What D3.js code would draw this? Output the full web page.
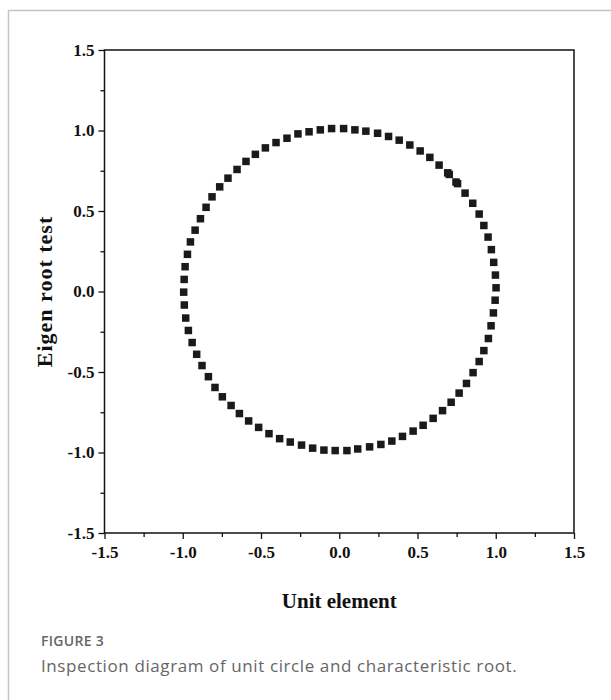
<!DOCTYPE html>
<html>
<head>
<meta charset="utf-8">
<script src="https://cdn.jsdelivr.net/npm/d3@7"></script>
<style>
  body { margin: 0; background: #fff; }
  .tick text { font-family: 'Liberation Serif', serif; font-weight: bold; font-size: 17px; fill: #111; }
  .axis-title { font-family: 'Liberation Serif', serif; font-weight: bold; font-size: 21px; fill: #111; }
</style>
</head>
<body>
<script>
const rootX = [
  0.028, -0.049, -0.121, -0.193, -0.264, -0.334, -0.404, -0.472, -0.536, -0.596,
  -0.653, -0.711, -0.764, -0.813, -0.851, -0.887, -0.921, -0.951, -0.970, -0.985,
  -0.991, -0.994, -0.990, -0.981, -0.964, -0.940, -0.911, -0.877, -0.836, -0.794,
  -0.747, -0.691, -0.638, -0.579, -0.515, -0.449, -0.381, -0.313, -0.241, -0.170,
  -0.098, -0.026, 0.049, 0.118, 0.194, 0.266, 0.336, 0.404, 0.472, 0.536,
  0.600, 0.660, 0.715, 0.766, 0.813, 0.855, 0.894, 0.924, 0.953, 0.970,
  0.985, 0.996, 1.002, 0.998, 0.987, 0.972, 0.951, 0.924, 0.894, 0.853,
  0.804, 0.756, 0.746, 0.703, 0.693, 0.638, 0.579, 0.517, 0.451, 0.383,
  0.315, 0.245, 0.170, 0.100
]
const rootY = [
  1.012, 1.012, 1.004, 0.992, 0.979, 0.952, 0.925, 0.892, 0.852, 0.808,
  0.758, 0.704, 0.650, 0.588, 0.523, 0.452, 0.381, 0.308, 0.231, 0.154,
  0.075, -0.004, -0.084, -0.165, -0.242, -0.317, -0.390, -0.460, -0.529, -0.596,
  -0.654, -0.708, -0.758, -0.804, -0.844, -0.883, -0.914, -0.935, -0.954, -0.973,
  -0.985, -0.988, -0.988, -0.978, -0.965, -0.950, -0.929, -0.900, -0.867, -0.831,
  -0.788, -0.740, -0.688, -0.631, -0.571, -0.504, -0.435, -0.367, -0.292, -0.213,
  -0.133, -0.054, 0.023, 0.102, 0.181, 0.260, 0.338, 0.410, 0.481, 0.548,
  0.611, 0.670, 0.680, 0.727, 0.737, 0.785, 0.833, 0.873, 0.910, 0.940,
  0.963, 0.983, 0.996, 1.004
]
const roots = rootX.map((x, i) => ({ x, y: rootY[i] }))

const majorTicks = [-1.5, -1.0, -0.5, 0.0, 0.5, 1.0, 1.5]
const minorTicks = [-1.25, -0.75, -0.25, 0.25, 0.75, 1.25]

const W = 611, H = 700
const margin = { top: 50, right: 37, bottom: 167, left: 104.5 }
const width = W - margin.left - margin.right
const height = H - margin.top - margin.bottom

const root = d3.select('body').append('svg')
  .attr('width', W)
  .attr('height', H)

// outer frame (only top and left visible in the crop)
root.append('path')
  .attr('d', `M8.5,${H} L8.5,10.5 L${W},10.5`)
  .attr('fill', 'none')
  .attr('stroke', '#c4c4c4')
  .attr('stroke-width', 1.5)

const svg = root.append('g')
  .attr('transform', `translate(${margin.left}, ${margin.top})`)

const xScale = d3.scaleLinear().domain([-1.5, 1.5]).range([0, width])
const yScale = d3.scaleLinear().domain([-1.5, 1.5]).range([height, 0])

// minor ticks
svg.append('g')
  .attr('transform', `translate(0, ${height})`)
  .call(d3.axisBottom(xScale).tickValues(minorTicks).tickSize(4).tickFormat(''))
  .call(g => g.select('.domain').remove())
svg.append('g')
  .call(d3.axisLeft(yScale).tickValues(minorTicks).tickSize(4).tickFormat(''))
  .call(g => g.select('.domain').remove())

const xAxis = svg.append('g')
  .attr('class', 'x axis')
  .attr('transform', `translate(0, ${height})`)
  .call(d3.axisBottom(xScale).tickValues(majorTicks).tickSize(6).tickPadding(7).tickFormat(d3.format('.1f')))
xAxis.select('.domain').remove()

const yAxis = svg.append('g')
  .attr('class', 'y axis')
  .call(d3.axisLeft(yScale).tickValues(majorTicks).tickSize(6).tickPadding(4).tickFormat(d3.format('.1f')))
yAxis.select('.domain').remove()

svg.selectAll('.tick line').attr('stroke', '#111').attr('stroke-width', 1.3)
svg.selectAll('.tick text').text(function () { return this.textContent.replace('−', '-') })

// frame of the plot
svg.append('rect')
  .attr('width', width)
  .attr('height', height)
  .attr('fill', 'none')
  .attr('stroke', '#111')
  .attr('stroke-width', 1.5)

const size = 7.5
svg.selectAll('.pt').data(roots).enter().append('rect')
  .attr('class', 'pt')
  .attr('x', d => xScale(d.x) - size / 2)
  .attr('y', d => yScale(d.y) - size / 2)
  .attr('width', size)
  .attr('height', size)
  .attr('fill', '#1a1a1a')

svg.append('text')
  .attr('class', 'axis-title')
  .attr('x', width / 2)
  .attr('y', height + 75)
  .attr('text-anchor', 'middle')
  .text('Unit element')

svg.append('text')
  .attr('class', 'axis-title')
  .attr('transform', `translate(-53, ${height / 2}) rotate(-90)`)
  .attr('text-anchor', 'middle')
  .style('font-size', '22px')
  .style('letter-spacing', '1px')
  .text('Eigen root test')

root.append('text')
  .attr('x', 41)
  .attr('y', 646)
  .style('font-family', "'Open Sans', sans-serif")
  .style('font-weight', 600)
  .style('font-size', '14px')
  .style('letter-spacing', '0.3px')
  .style('fill', '#666')
  .text('FIGURE 3')

root.append('text')
  .attr('x', 41)
  .attr('y', 672)
  .style('font-family', "'Open Sans', sans-serif")
  .style('font-size', '17px')
  .style('letter-spacing', '0.6px')
  .style('fill', '#666')
  .text('Inspection diagram of unit circle and characteristic root.')
</script>
</body>
</html>
